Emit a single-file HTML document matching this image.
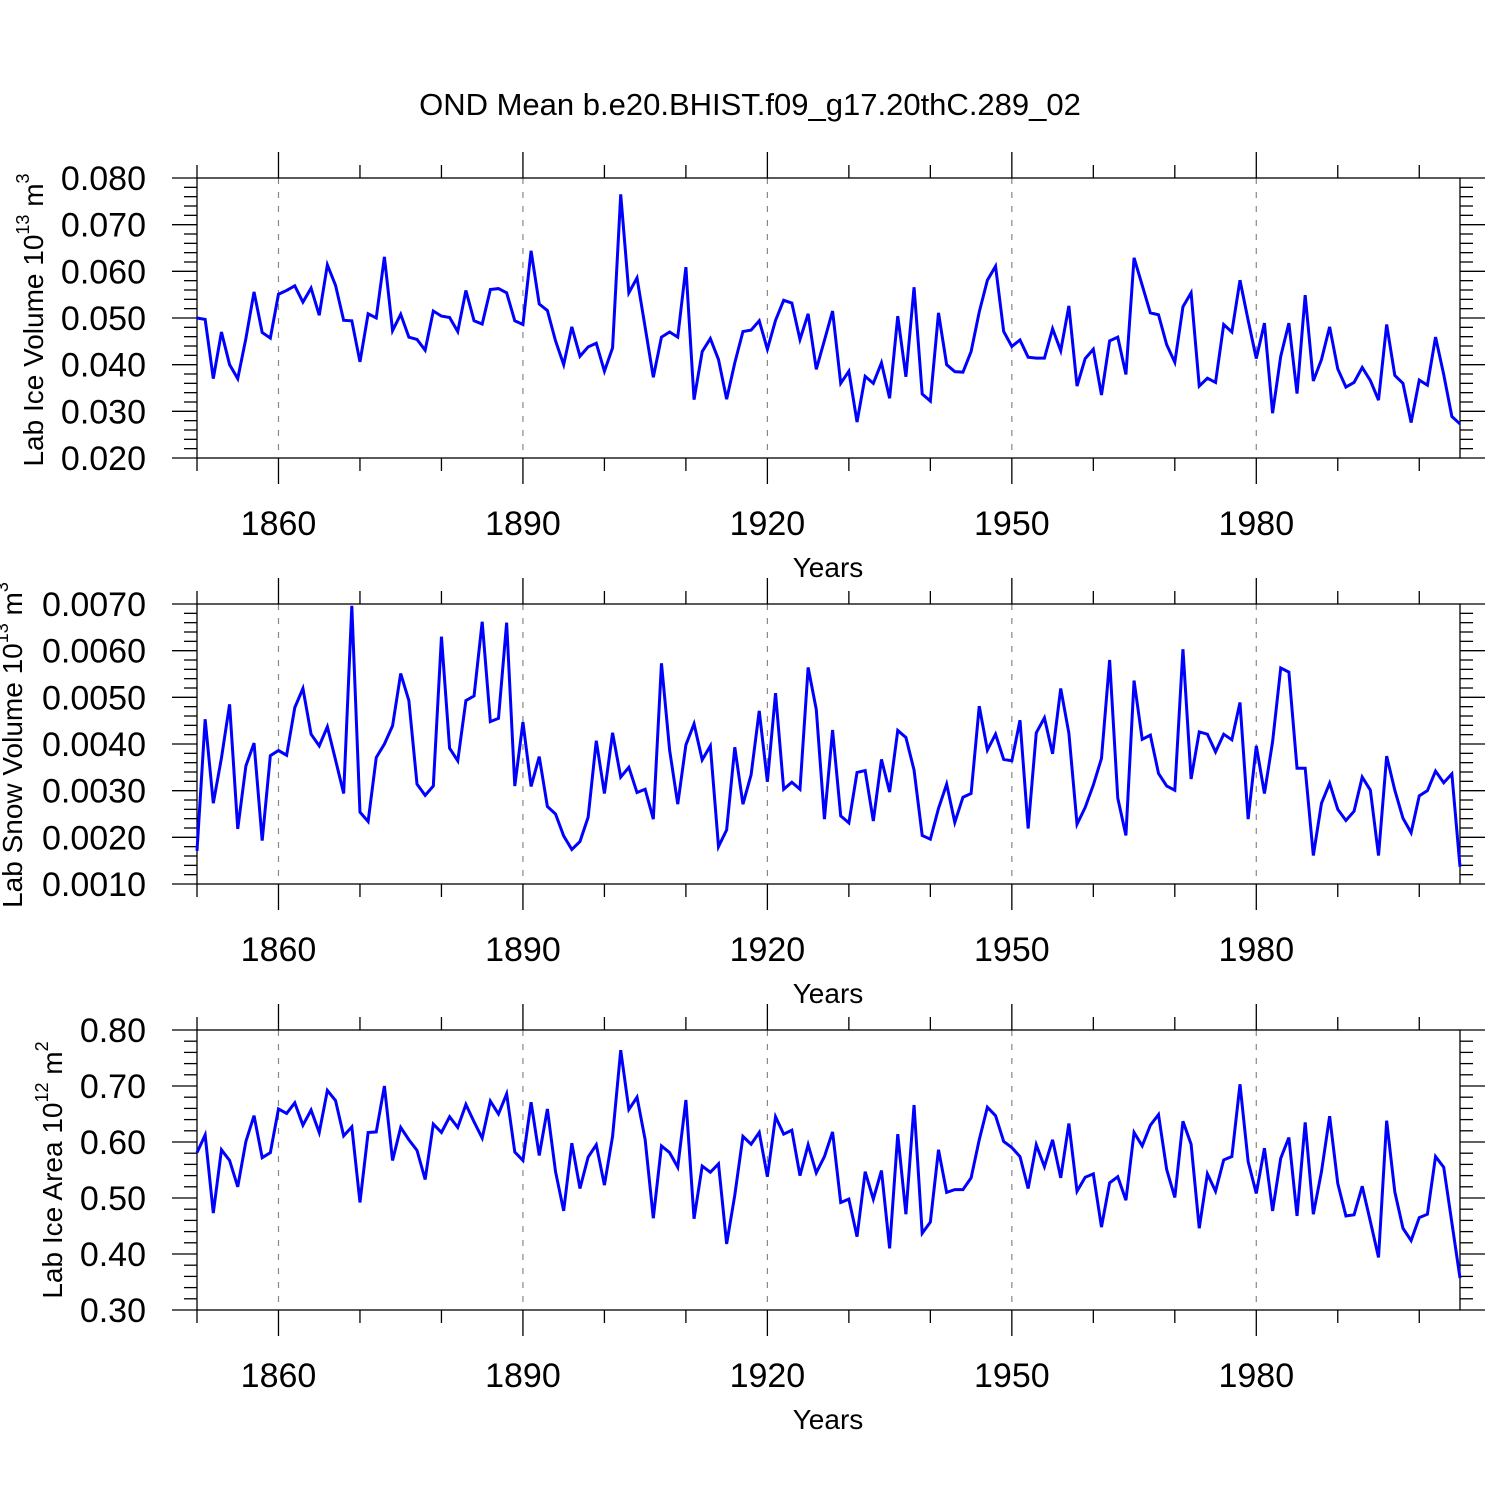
<!DOCTYPE html>
<html><head><meta charset="utf-8"><style>
html,body{margin:0;padding:0;background:#fff;}
svg{display:block;font-family:"Liberation Sans",Arial,sans-serif;}
</style></head><body>
<svg id="chart" width="1500" height="1500" viewBox="0 0 1500 1500" xmlns="http://www.w3.org/2000/svg">
<rect x="0" y="0" width="1500" height="1500" fill="#fff"/>
<text x="750" y="115" font-size="31" text-anchor="middle">OND Mean b.e20.BHIST.f09_g17.20thC.289_02</text>
</svg>
<script>
const startYear = 1850;
const endYear = 2005;
const iceVolume = [
.050,.0497,.037,.047,.040,.037,.0456,.0556,.0469,.0457,
.0551,.0559,.0569,.0534,.0564,.0506,.0614,.057,.0495,.0494,
.0406,.0509,.050,.0631,.0473,.0508,.0459,.0454,.0431,.0515,
.0504,.0501,.0471,.0559,.0494,.0487,.0561,.0563,.0554,.0494,
.0486,.0644,.053,.0516,.0451,.040,.0481,.0418,.0438,.0446,
.0386,.0436,.0765,.0554,.0586,.048,.0373,.0459,.047,.0459,
.0609,.0325,.0428,.0456,.0411,.0326,.0404,.0471,.0474,.0494,
.0433,.0495,.0538,.0532,.0454,.0509,.039,.0452,.0515,.036,
.0386,.0277,.0375,.036,.0404,.0328,.0504,.0374,.0566,.0337,
.0322,.0511,.040,.0385,.0384,.0428,.0513,.0581,.0611,.0471,
.0439,.0453,.0416,.0414,.0414,.0477,.043,.0526,.0354,.0413,
.0433,.0335,.0451,.0459,.0379,.0629,.057,.0511,.0507,.0443,
.0405,.0524,.0554,.0354,.0371,.0362,.0486,.047,.0581,.0495,
.0413,.0489,.0296,.0418,.0489,.0338,.0549,.0365,.0411,.0481,
.0391,.0352,.0362,.0394,.0366,.0324,.0486,.0377,.036,.0276,
.0367,.0356,.0459,.0379,.0289,.0273];
const snowVolume = [
.00171,.00453,.00273,.0037,.00485,.00218,.00353,.00402,.00193,.00375,
.00386,.00376,.00478,.00519,.00421,.00396,.00437,.00366,.00294,.00696,
.00254,.00234,.00371,.0040,.00439,.00551,.00493,.00314,.0029,.0031,
.0063,.00391,.00364,.00493,.00503,.00662,.00448,.00455,.0066,.0031,
.00447,.00309,.00373,.00266,.0025,.00203,.00174,.00191,.00243,.00407,
.00294,.00424,.00329,.0035,.00296,.00303,.00239,.00573,.00387,.00271,
.00398,.00443,.00366,.00396,.0018,.00216,.00393,.00271,.00334,.00471,
.00319,.00509,.00303,.00318,.00303,.00564,.00474,.00239,.0043,.00246,
.00231,.00339,.00343,.00235,.00367,.00297,.00429,.00414,.00344,.00204,
.00196,.00262,.00314,.00232,.00286,.00294,.00481,.00387,.00421,.00367,
.00364,.00451,.00219,.00424,.00456,.00379,.00519,.00423,.00228,.00264,
.00312,.00369,.0058,.00284,.00204,.00536,.0041,.00419,.00337,.0031,
.00301,.00603,.00325,.00426,.00421,.00383,.00421,.00409,.00489,.00239,
.00396,.00294,.00405,.00563,.00554,.00348,.00348,.00161,.00273,.00316,
.0026,.00236,.00256,.00329,.00301,.00161,.00374,.00301,.00241,.0021,
.00289,.003,.00342,.00317,.00336,.00137];
const iceArea = [
.581,.6125,.473,.586,.567,.520,.601,.647,.572,.581,
.659,.651,.670,.630,.657,.617,.692,.674,.611,.627,
.492,.617,.618,.700,.567,.626,.604,.585,.533,.632,
.617,.645,.626,.667,.636,.607,.673,.650,.686,.582,
.567,.671,.576,.659,.547,.477,.598,.517,.573,.595,
.523,.610,.764,.658,.680,.604,.464,.593,.581,.555,
.675,.463,.557,.546,.561,.418,.505,.610,.596,.617,
.538,.645,.614,.621,.540,.595,.545,.574,.618,.492,
.498,.431,.547,.498,.549,.410,.614,.471,.666,.437,
.457,.586,.510,.515,.515,.536,.604,.662,.647,.601,
.590,.574,.517,.595,.556,.604,.536,.633,.512,.537,
.543,.448,.527,.538,.496,.617,.593,.630,.649,.551,
.501,.637,.596,.446,.543,.512,.568,.574,.703,.565,
.508,.589,.477,.571,.608,.468,.635,.471,.547,.646,
.526,.468,.470,.521,.458,.394,.638,.511,.446,.424,
.465,.471,.574,.555,.456,.357];
const xTickLabels = ["1860","1890","1920","1950","1980"];
const xTickYears = [1860,1890,1920,1950,1980];
const ticks1 = ["0.020","0.030","0.040","0.050","0.060","0.070","0.080"];
const ticks2 = ["0.0010","0.0020","0.0030","0.0040","0.0050","0.0060","0.0070"];
const ticks3 = ["0.30","0.40","0.50","0.60","0.70","0.80"];

const NS = "http://www.w3.org/2000/svg";
const svg = document.getElementById('chart');
const X0 = 197, X1 = 1460;
function xScale(yr){ return X0 + (yr - startYear) / (endYear - startYear) * (X1 - X0); }
function mk(tag, attrs, parent){
  const e = document.createElementNS(NS, tag);
  for (const k in attrs) e.setAttribute(k, attrs[k]);
  (parent || svg).appendChild(e);
  return e;
}

const panels = [
  {top:178, vals:iceVolume, ticks:ticks1, min:0.020, max:0.080, major:0.010, minor:0.002, name:'ice-volume',
   title:['Lab Ice Volume 10','13',' m','3'], tx:43, ty:320},
  {top:604, vals:snowVolume, ticks:ticks2, min:0.0010, max:0.0070, major:0.0010, minor:0.0002, name:'snow-volume',
   title:['Lab Snow Volume 10','13',' m','3'], tx:22, ty:745},
  {top:1030, vals:iceArea, ticks:ticks3, min:0.30, max:0.80, major:0.10, minor:0.02, name:'ice-area',
   title:['Lab Ice Area 10','12',' m','2'], tx:62, ty:1170}
];

panels.forEach(function(p){
  const H = 280, top = p.top, bot = top + H;
  const g = mk('g', {});
  
  
  function yScale(v){ return bot - (v - p.min) / (p.max - p.min) * H; }

  xTickYears.forEach(function(yr){
    const l = mk('line', {x1:xScale(yr), x2:xScale(yr), y1:top, y2:bot, stroke:'#888', 'stroke-width':1.2, 'stroke-dasharray':'6,8'}, g);
    
    
  });

  for (let yr = startYear; yr <= endYear; yr += 10){
    const major = ((yr - 1860) % 30 === 0);
    const len = major ? 26 : 13;
    const x = xScale(yr);
    mk('line', {x1:x, x2:x, y1:top, y2:top-len, stroke:'#000', 'stroke-width':1.3}, g);
    mk('line', {x1:x, x2:x, y1:bot, y2:bot+len, stroke:'#000', 'stroke-width':1.3}, g);
  }
  const nMinor = Math.round((p.max - p.min) / p.minor);
  const per = Math.round(p.major / p.minor);
  for (let i = 0; i <= nMinor; i++){
    const v = p.min + i * p.minor;
    const y = yScale(v);
    const len = (i % per === 0) ? 25 : 13;
    mk('line', {x1:X0, x2:X0-len, y1:y, y2:y, stroke:'#000', 'stroke-width':1.3}, g);
    mk('line', {x1:X1, x2:X1+len, y1:y, y2:y, stroke:'#000', 'stroke-width':1.3}, g);
  }
  const fr = mk('rect', {x:X0, y:top, width:X1-X0, height:H, fill:'none', stroke:'#000', 'stroke-width':1.3}, g);
  
  

  p.ticks.forEach(function(t, i){
    const v = p.min + i * p.major;
    const tx = mk('text', {x:146, y:yScale(v)+12, 'font-size':34, 'text-anchor':'end'}, g);
    tx.textContent = t;
    
    
  });
  xTickLabels.forEach(function(t, i){
    const tx = mk('text', {x:xScale(xTickYears[i]), y:top+357, 'font-size':34, 'text-anchor':'middle'}, g);
    tx.textContent = t;
    
    
  });
  const xt = mk('text', {x:828, y:top+399, 'font-size':28, 'text-anchor':'middle'}, g);
  xt.textContent = 'Years';
  
  
  const yt = mk('text', {x:0, y:0, 'font-size':28, 'text-anchor':'middle', transform:'translate(' + p.tx + ',' + p.ty + ') rotate(-90)'}, g);
  
  
  const t1 = mk('tspan', {}, yt); t1.textContent = p.title[0];
  const t2 = mk('tspan', {dy:-14, 'font-size':18}, yt); t2.textContent = p.title[1];
  const t3 = mk('tspan', {dy:14}, yt); t3.textContent = p.title[2];
  const t4 = mk('tspan', {dy:-14, 'font-size':18}, yt); t4.textContent = p.title[3];

  const pts = p.vals.map(function(v, i){ return xScale(startYear + i).toFixed(2) + ',' + yScale(v).toFixed(2); }).join(' ');
  const pl = mk('polyline', {points:pts, fill:'none', stroke:'#0000ff', 'stroke-width':3, 'stroke-linejoin':'miter'}, g);
  
  
});
</script>
</body></html>
